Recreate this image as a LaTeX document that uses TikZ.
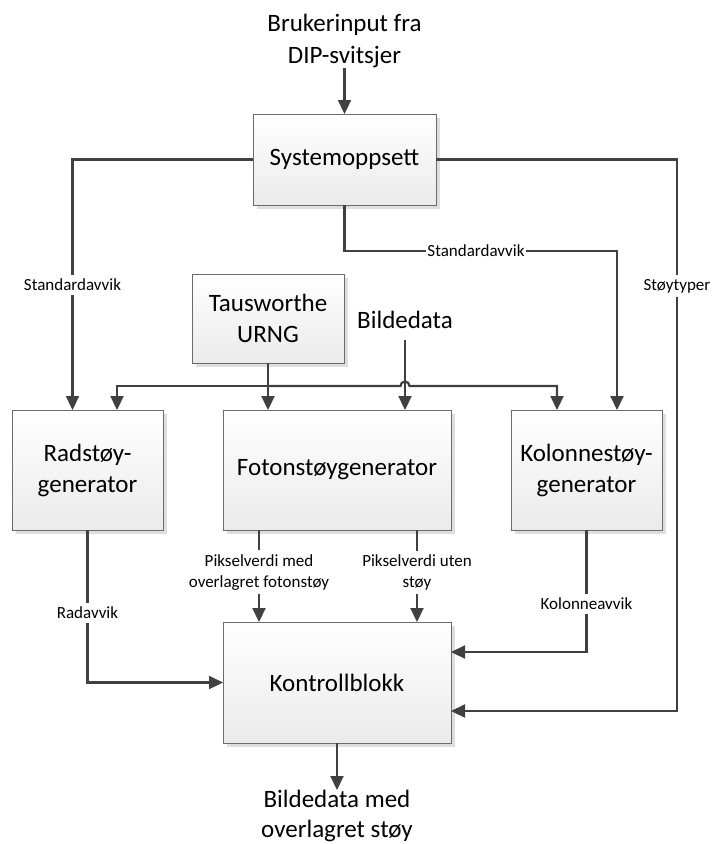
\documentclass[tikz,border=0pt]{standalone}
\usepackage{fontspec}
\setmainfont{Carlito}
\usetikzlibrary{arrows.meta,shadows,calc}

\begin{document}
\begin{tikzpicture}[x=1pt,y=-1pt,
  block/.style={draw=black!58, line width=1pt, top color=white, bottom color=black!8,
    drop shadow={shadow xshift=3.5pt, shadow yshift=-3.5pt, fill=black!13, opacity=1},
    inner sep=0pt, outer sep=0pt, align=center, font=\fontsize{25}{31}\selectfont},
  conn/.style={draw=black!75, line width=2.2pt, -{Triangle[length=14pt,width=13pt]}},
  lab/.style={fill=white, inner xsep=1.5pt, inner ysep=4pt, align=center,
    font=\fontsize{17}{21}\selectfont},
  big/.style={inner sep=0pt, align=center, font=\fontsize{25}{32}\selectfont}]

\useasboundingbox (0,0) rectangle (712,844);

% processing blocks
\node[block, minimum width=183pt, minimum height=91pt]  (sys)  at (344.5,159.5) {Systemoppsett};
\node[block, minimum width=152pt, minimum height=89pt]  (taus) at (268,318.5)   {Tausworthe\\URNG};
\node[block, minimum width=151pt, minimum height=120pt] (rad)  at (87.5,470)    {Radstøy-\\generator};
\node[block, minimum width=228pt, minimum height=120pt] (fot)  at (337,470)     {Fotonstøygenerator};
\node[block, minimum width=151pt, minimum height=120pt] (kol)  at (586.5,470)   {Kolonnestøy-\\generator};
\node[block, minimum width=228pt, minimum height=121pt] (kon)  at (337,682.5)   {Kontrollblokk};

% external inputs and output
\node[big, anchor=south] (inp) at (344.5,68) {Brukerinput fra\\DIP-svitsjer};
\node[big] (bild) at (405,320) {Bildedata};
\node[big, anchor=north, font=\fontsize{25}{30}\selectfont] (out) at (337,790) {Bildedata med\\overlagret støy};

% routing points
\coordinate (rail) at (677,400);
\coordinate (sdR)  at (617,251);
\coordinate (bus)  at ($(taus.south)+(0,23)$);

% configuration connections
\draw[conn] (inp.south) -- (sys.north);
\draw[conn] (sys.west) -| ($(rad.north)+(-15,0)$);
\draw[conn] (sys.east) -| (rail) |- ($(kon.east)+(0,28.5)$);
\draw[conn] (sys.south) |- (sdR) -- ($(kol.north)+(30.5,0)$);

% random numbers and image data distribution
\draw[conn] (taus.south) -- (taus.south |- fot.north);
\draw[conn] (bus) -| ($(rad.north)+(29.5,0)$);
\draw[conn] (bus) -- ($(bild.south |- bus)+(-4.5,0)$)
  arc[start angle=180, end angle=0, radius=4.5pt] -| ($(kol.north)+(-29.5,0)$);
\draw[conn] (bild.south) ++(0,11) -- (bild.south |- fot.north);

% generator outputs into the control block
\draw[conn] (rad.south) |- (kon.west);
\draw[conn] (kol.south) |- ($(kon.east)+(0,-30.5)$);
\draw[conn] ($(fot.south)+(-78,0)$) -- node[lab, pos=0.46] (lp1) {Pikselverdi med\\overlagret fotonstøy} ($(kon.north)+(-78,0)$);
\draw[conn] ($(fot.south)+(80,0)$) -- node[lab, pos=0.46] (lp2) {Pikselverdi uten\\støy} ($(kon.north)+(80,0)$);
\draw[conn] (kon.south) -- (out.north);

% connector labels
\node[lab] (ls1) at (72.5,285) {Standardavvik};
\node[lab] (ls2) at (476,251)  {Standardavvik};
\node[lab] (lt)  at (677,286)  {Støytyper};
\node[lab] (lr)  at (87.5,613) {Radavvik};
\node[lab] (lk)  at (586.5,604) {Kolonneavvik};
\end{tikzpicture}
\end{document}
